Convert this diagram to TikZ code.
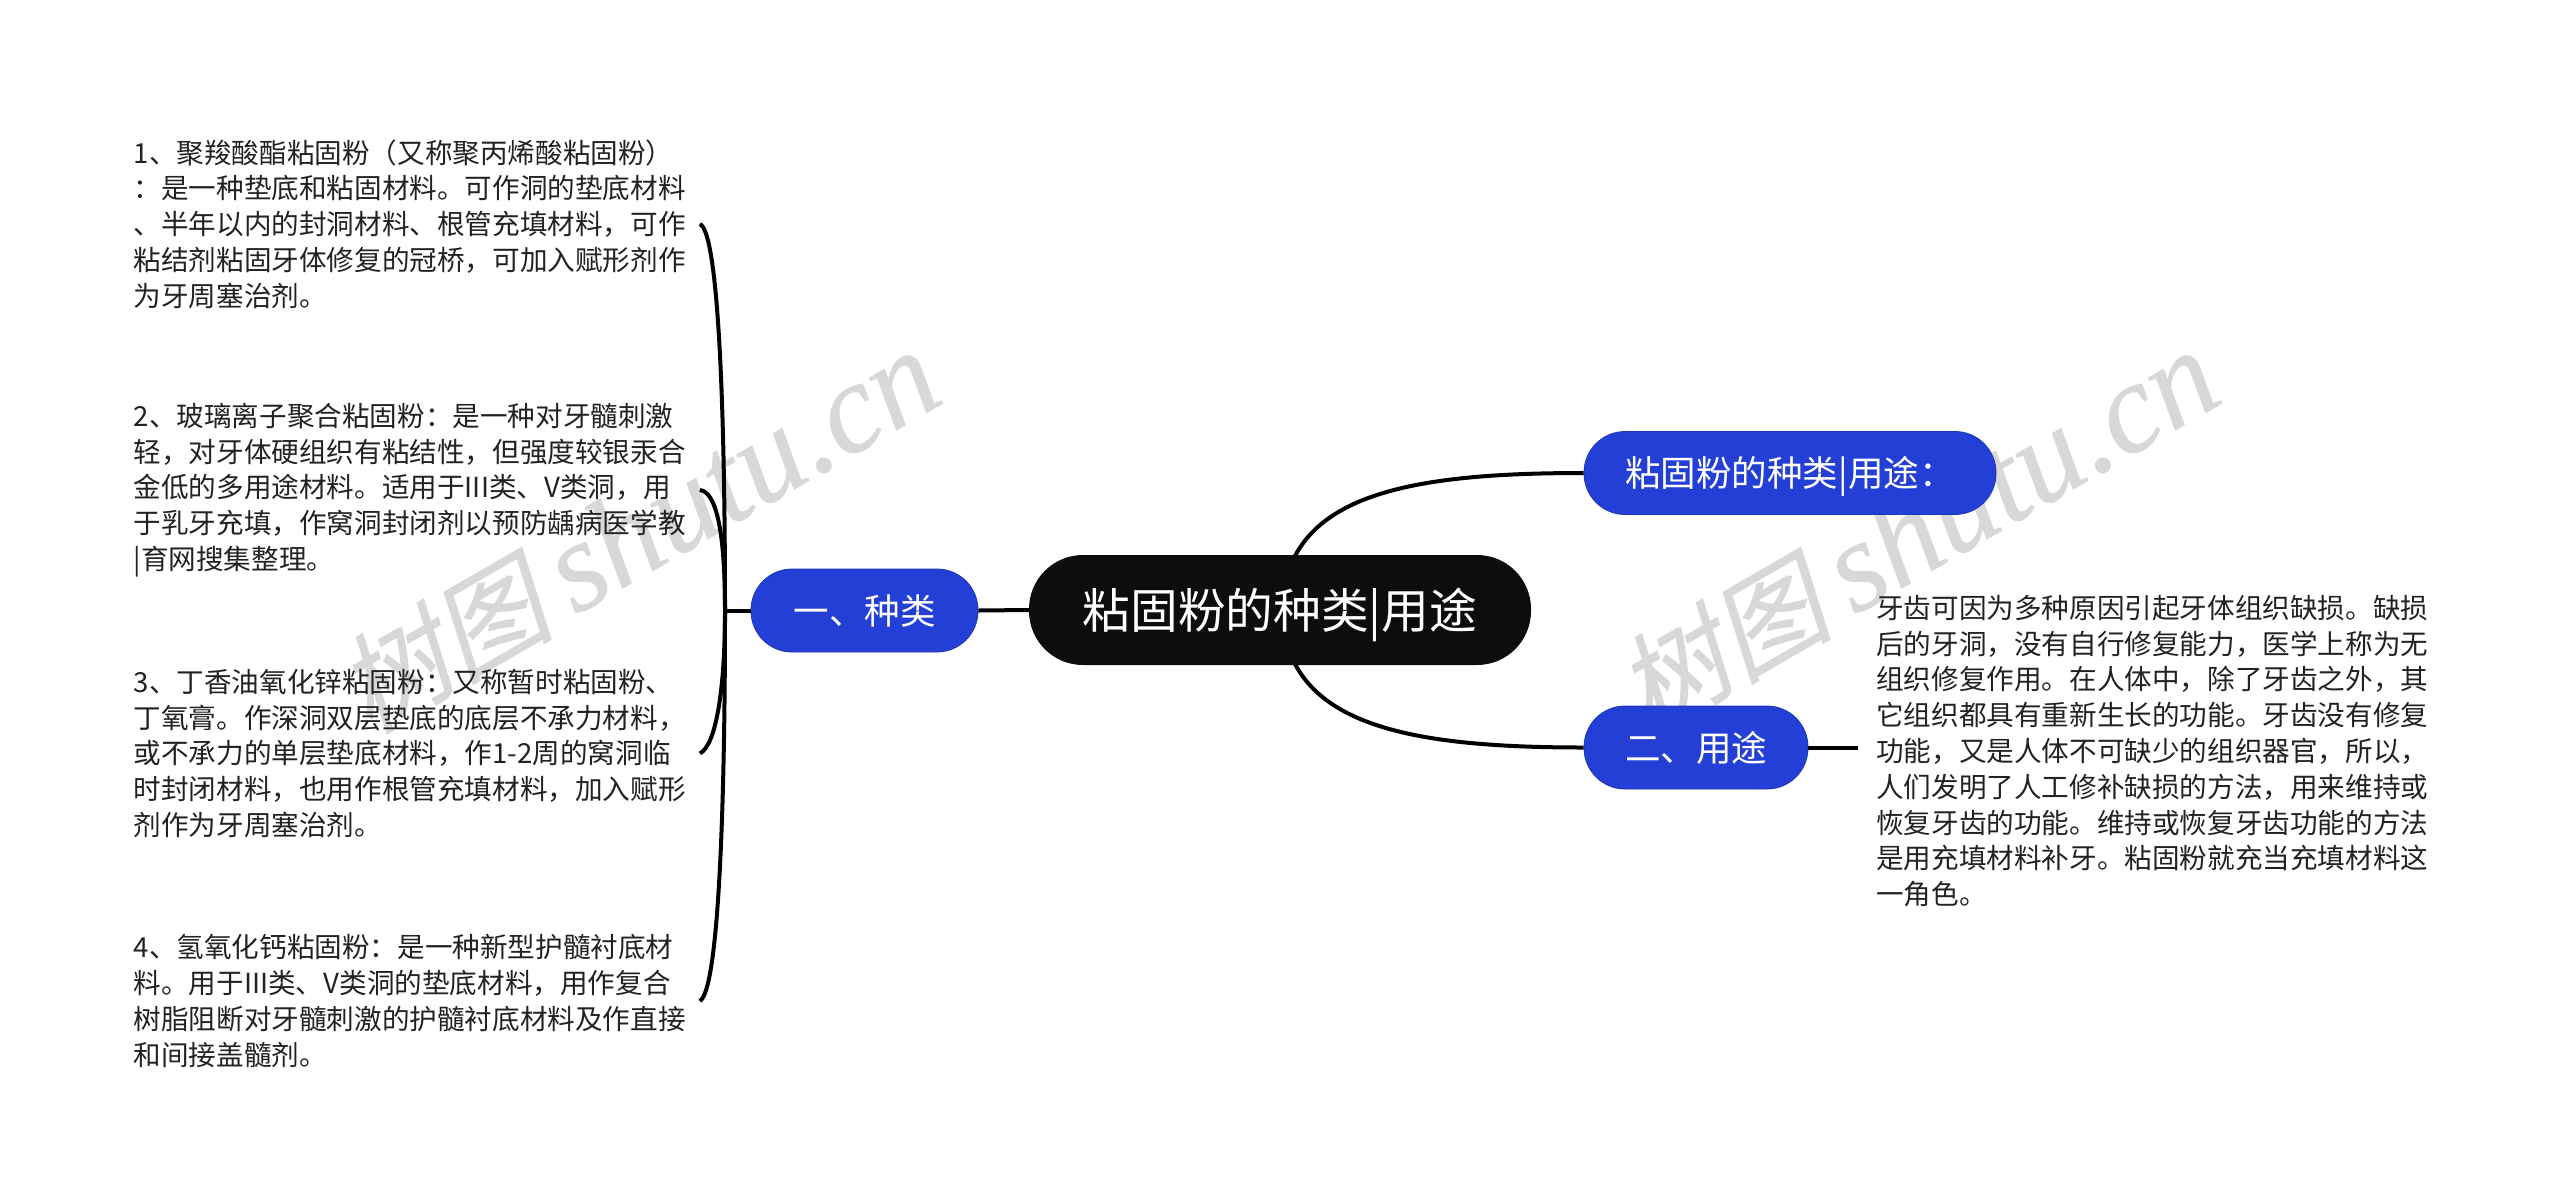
\documentclass[tikz,border=0pt]{standalone}
\usepackage{fontspec}
\setmainfont{Noto Sans CJK SC}
\newfontfamily\wmcjk[FakeSlant=0.22, FakeBold=0.8]{Noto Sans CJK SC}
\newfontfamily\wmlat[FakeBold=0.6]{Liberation Serif}
\newcommand{\marktext}{{\fontsize{108pt}{120pt}\selectfont\wmcjk 树图}\hspace{22pt}{\fontsize{128pt}{130pt}\selectfont\wmlat\itshape shutu.cn}}
\definecolor{rootblack}{HTML}{0D0D0D}
\definecolor{topicblue}{HTML}{243FD6}
\definecolor{topicedge}{HTML}{1E36B8}
\definecolor{bodyink}{HTML}{222222}
\definecolor{wmgray}{HTML}{D8D8D8}
\tikzset{
    rootnode/.style={fill=rootblack, text=white, rounded corners=54pt, minimum width=502pt, minimum height=110pt, inner sep=0pt, text height=42pt, text depth=6pt, font=\fontsize{47.7pt}{50pt}\selectfont},
    topic/.style={fill=topicblue, draw=topicedge, line width=0.8pt, text=white, rounded corners=41pt, minimum height=83pt, inner sep=0pt, text height=31pt, text depth=4pt, font=\fontsize{35.5pt}{40pt}\selectfont},
    bodytext/.style={text=bodyink, anchor=west, align=left, text width=553pt, inner xsep=0pt, inner ysep=0pt, font=\fontsize{27.6pt}{35.8pt}\selectfont},
    link/.style={line width=4pt, black},
    watermark/.style={text=wmgray, rotate=30, inner sep=0pt},
}
\begin{document}
\begin{tikzpicture}[x=1pt, y=-1pt]
    \useasboundingbox (0, 0) rectangle (2560, 1203);
    \node[watermark] (markleft) at (638, 532) {\marktext};
    \node[watermark] (markright) at (1917, 532) {\marktext};

    \node[rootnode] (root) at (1280, 610) {粘固粉的种类|用途};
    \node[topic, minimum width=412pt] (intro) at (1790, 473) {粘固粉的种类|用途：};
    \node[topic, minimum width=224pt] (usage) at (1696, 747.5) {二、用途};
    \node[topic, minimum width=227pt] (kinds) at (864.5, 610.5) {一、种类};

    \node[bodytext, text width=566pt] (kindone) at (133.5, 224) {1、聚羧酸酯粘固粉（又称聚丙烯酸粘固粉）\\：是一种垫底和粘固材料。可作洞的垫底材料\\、半年以内的封洞材料、根管充填材料，可作\\粘结剂粘固牙体修复的冠桥，可加入赋形剂作\\为牙周塞治剂。};
    \node[bodytext, text width=566pt] (kindtwo) at (133.5, 490) {2、玻璃离子聚合粘固粉：是一种对牙髓刺激\\轻，对牙体硬组织有粘结性，但强度较银汞合\\金低的多用途材料。适用于III类、V类洞，用\\于乳牙充填，作窝洞封闭剂以预防龋病医学教\\|育网搜集整理。};
    \node[bodytext, text width=566pt] (kindthree) at (133.5, 753.5) {3、丁香油氧化锌粘固粉：又称暂时粘固粉、\\丁氧膏。作深洞双层垫底的底层不承力材料，\\或不承力的单层垫底材料，作1-2周的窝洞临\\时封闭材料，也用作根管充填材料，加入赋形\\剂作为牙周塞治剂。};
    \node[bodytext, text width=566pt] (kindfour) at (133.5, 1001) {4、氢氧化钙粘固粉：是一种新型护髓衬底材\\料。用于III类、V类洞的垫底材料，用作复合\\树脂阻断对牙髓刺激的护髓衬底材料及作直接\\和间接盖髓剂。};
    \node[bodytext, inner xsep=18pt] (usagetext) at (1858, 751) {牙齿可因为多种原因引起牙体组织缺损。缺损\\后的牙洞，没有自行修复能力，医学上称为无\\组织修复作用。在人体中，除了牙齿之外，其\\它组织都具有重新生长的功能。牙齿没有修复\\功能，又是人体不可缺少的组织器官，所以，\\人们发明了人工修补缺损的方法，用来维持或\\恢复牙齿的功能。维持或恢复牙齿功能的方法\\是用充填材料补牙。粘固粉就充当充填材料这\\一角色。};

    \coordinate (rootup) at (1295, 556);
    \coordinate (rootdown) at (1295, 664);
    \coordinate (spine) at (725, 610.5);
    \draw[link] (rootup) .. controls (1330, 490) and (1430, 473) .. (intro.west);
    \draw[link] (rootdown) .. controls (1330, 730) and (1430, 747.5) .. (usage.west);
    \draw[link] (root.west) -- (kinds.east);
    \draw[link] (usage.east) -- (usage.east -| usagetext.west);
    \draw[link] (kinds.west) -- (spine);
    \draw[link] (kindone.east) .. controls (718, 232) and (725, 400) .. (spine);
    \draw[link] (kindtwo.east) .. controls (716, 492) and (725, 530) .. (spine);
    \draw[link] (kindthree.east) .. controls (716, 745) and (725, 690) .. (spine);
    \draw[link] (kindfour.east) .. controls (718, 990) and (725, 820) .. (spine);
\end{tikzpicture}
\end{document}
